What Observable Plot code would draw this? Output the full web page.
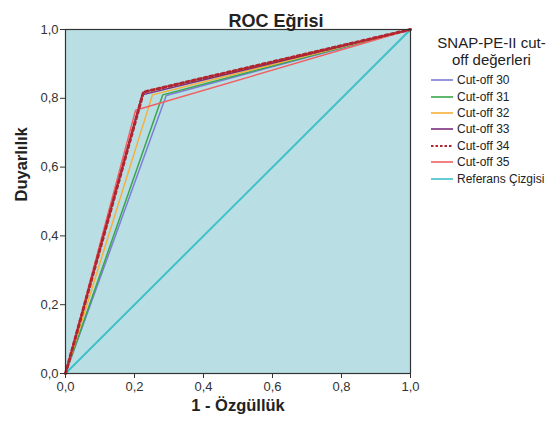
<!DOCTYPE html>
<html><head><meta charset="utf-8">
<script src="https://cdn.jsdelivr.net/npm/d3@7"></script>
<script src="https://cdn.jsdelivr.net/npm/@observablehq/plot@0.6"></script>
<style>
body{margin:0;background:#fff;font-family:"Liberation Sans",Arial,sans-serif;}
#wrap{position:relative;width:551px;height:433px;}
#legend{position:absolute;left:430px;top:34px;width:121px;color:#222;}
#legend .lt{text-align:center;font-size:15px;line-height:17px;margin-bottom:4px;margin-left:2px;}
#legend .it{display:flex;align-items:center;height:16.4px;font-size:12px;}
#legend svg{margin-right:3px;}
</style></head>
<body><div id="wrap"><div id="chart"></div><div id="legend"></div></div>
<script>
const series = ["Cut-off 30","Cut-off 31","Cut-off 32","Cut-off 33","Cut-off 34","Cut-off 35"];
const fpr = [0.292, 0.282, 0.252, 0.222, 0.226, 0.203];
const tpr = [0.808, 0.81, 0.81, 0.81, 0.818, 0.765];
const colors = ["#7e7ed8","#3aa64a","#f5b03a","#7a2f7f","#b0252e","#f06063"];
const refName = "Referans Çizgisi";
const refColor = "#40c0c8";
const ticks = [0, 0.2, 0.4, 0.6, 0.8, 1.0];
const titleText = "ROC Eğrisi";
const xLabel = "1 - Özgüllük";
const yLabel = "Duyarlılık";
const legendTitle = ["SNAP-PE-II cut-", "off değerleri"];

const rows = [];
series.forEach((s, i) => {
  rows.push({s, x: 0, y: 0}, {s, x: fpr[i], y: tpr[i]}, {s, x: 1, y: 1});
});
const refRows = [{x: 0, y: 0}, {x: 1, y: 1}];
const fmt = d => d3.format(".1f")(d).replace(".", ",");
const drawOrder = [0, 1, 2, 3, 5, 4];

const marks = [
  Plot.frame({fill: "#b9dfe5", stroke: null}),
  Plot.line(refRows, {x: "x", y: "y", stroke: refColor, strokeWidth: 2}),
  ...drawOrder.map(i => Plot.line(rows.filter(r => r.s === series[i]), {
    x: "x", y: "y", stroke: colors[i],
    strokeWidth: i === 4 ? 3 : 1.5,
    strokeDasharray: i === 4 ? "3,3" : null
  })),
  Plot.frame({stroke: "#333", strokeWidth: 1.2}),
  Plot.axisX({ticks, tickFormat: fmt, tickSize: 5, tickPadding: 3, label: null, fontSize: 13, color: "#333"}),
  Plot.axisY({ticks, tickFormat: fmt, tickSize: 5, tickPadding: 2, label: null, fontSize: 13, color: "#333"}),
  Plot.text([titleText], {frameAnchor: "top", dx: 38, dy: -15, fontSize: 18, fontWeight: "bold", fill: "#222"}),
  Plot.text([xLabel], {frameAnchor: "bottom", dy: 37, fontSize: 16.5, fontWeight: "bold", fill: "#222"}),
  Plot.text([yLabel], {frameAnchor: "left", dx: -44, rotate: -90, fontSize: 16.5, fontWeight: "bold", fill: "#222"})
];

const chart = Plot.plot({
  width: 551, height: 433,
  marginLeft: 65, marginRight: 141, marginTop: 29, marginBottom: 60,
  x: {domain: [0, 1]}, y: {domain: [0, 1]},
  style: {fontFamily: "Liberation Sans, Arial, sans-serif", background: "#fff"},
  marks
});
document.getElementById("chart").appendChild(chart);

const lg = document.getElementById("legend");
lg.innerHTML = `<div class="lt">${legendTitle.join("<br>")}</div>`;
const items = series.map((s, i) => ({s, c: colors[i], dash: i === 4})).concat([{s: refName, c: refColor, dash: false}]);
items.forEach(it => {
  const d = document.createElement("div");
  d.className = "it";
  d.innerHTML = `<svg width="24" height="6"><line x1="1" x2="23" y1="3" y2="3" stroke="${it.c}" stroke-width="${it.dash ? 2.2 : 1.6}" ${it.dash ? 'stroke-dasharray="2.5,2"' : ''}/></svg><span>${it.s}</span>`;
  lg.appendChild(d);
});
</script></body></html>
